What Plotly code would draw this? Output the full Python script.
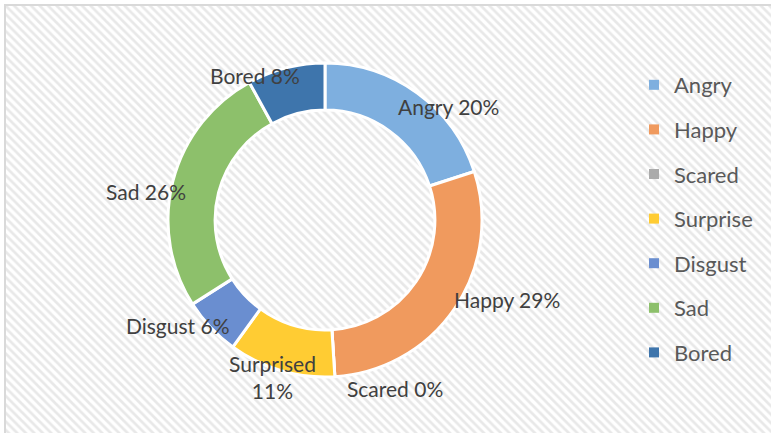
import plotly.graph_objects as go

# ---- data ----
categories = ["Angry", "Happy", "Scared", "Surprise", "Disgust", "Sad", "Bored"]
label_names = ["Angry", "Happy", "Scared", "Surprised", "Disgust", "Sad", "Bored"]
values = [20, 29, 0, 11, 6, 26, 8]
colors = ["#7EAFDF", "#F09A5E", "#ABABAB", "#FFCC33", "#6A8ED0", "#8DC06B", "#3E75AC"]

W, H = 771, 433
CX, CY, R = 325, 220, 157  # pie centre / radius in px
FONT = "Lato, Calibri, Arial, sans-serif"

# label centres (layout, px)
label_pos = [(448, 107), (507, 299), (395, 388), (272, 377), (177, 325), (146, 191), (255, 76)]

fig = go.Figure()

# patterned background
fig.add_trace(go.Bar(
    x=[0.5], y=[1], width=[1], showlegend=False, hoverinfo="skip",
    marker=dict(color="white", line=dict(width=0),
                pattern=dict(shape="\\", fgcolor="#d2d2d2", bgcolor="white", size=6, solidity=0.45)),
))

total = sum(values)
fig.add_trace(go.Pie(
    labels=categories, values=values, sort=False, direction="clockwise", rotation=0,
    hole=0.70, textinfo="none", showlegend=False,
    marker=dict(colors=colors, line=dict(color="white", width=3)),
    domain=dict(x=[(CX - R) / W, (CX + R) / W], y=[(H - CY - R) / H, (H - CY + R) / H]),
))

# legend via dummy traces
for c, col in zip(categories, colors):
    fig.add_trace(go.Scatter(
        x=[None], y=[None], mode="markers", name=c, legendgroup=c,
        marker=dict(symbol="square", size=10, color=col),
    ))

annotations = []
for name, v, (px, py) in zip(label_names, values, label_pos):
    pct = round(100 * v / total)
    if name == "Surprised":
        txt = f"{name}<br>{pct}%"
    else:
        txt = f"{name} {pct}%"
    annotations.append(dict(
        x=px / W, y=1 - py / H, xref="paper", yref="paper", text=txt, showarrow=False,
        xanchor="center", yanchor="middle", font=dict(family=FONT, size=21, color="#404040"),
    ))

fig.update_layout(
    width=W, height=H, margin=dict(l=0, r=0, t=0, b=0),
    paper_bgcolor="white", plot_bgcolor="white",
    xaxis=dict(domain=[6 / W, 1], range=[0, 1], visible=False, fixedrange=True),
    yaxis=dict(domain=[0, 1 - 6 / H], range=[0, 1], visible=False, fixedrange=True),
    bargap=0,
    showlegend=True,
    legend=dict(x=634 / W, y=1 - 64 / H, xanchor="left", yanchor="top",
                font=dict(family=FONT, size=22, color="#595959"),
                bgcolor="rgba(0,0,0,0)", tracegroupgap=13, traceorder="grouped"),
    annotations=annotations,
    shapes=[dict(type="rect", xref="paper", yref="paper", x0=5 / W, x1=1.05, y0=-0.05, y1=1 - 5 / H,
                 line=dict(color="#d9d9d9", width=2), layer="above")],
)

fig.write_html("out.html")
